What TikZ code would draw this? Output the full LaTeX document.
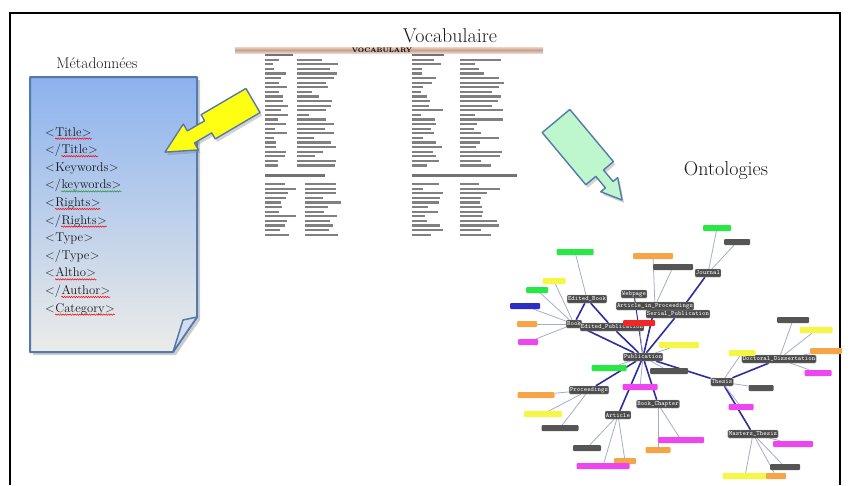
\documentclass[tikz,border=0pt]{standalone}
\usepackage{tikz}
\usetikzlibrary{shadows}
\usetikzlibrary{backgrounds}
\usetikzlibrary{decorations.pathmorphing}
\definecolor{docblue}{RGB}{140,178,238}
\definecolor{docgrey}{RGB}{236,236,232}
\definecolor{docedge}{RGB}{84,122,172}
\definecolor{callyellow}{RGB}{255,255,20}
\definecolor{callgreen}{RGB}{190,246,205}
\definecolor{isablue}{RGB}{45,45,160}
\definecolor{propgrey}{RGB}{165,172,200}
\definecolor{lfgreen}{RGB}{40,232,70}
\definecolor{lfyellow}{RGB}{246,246,70}
\definecolor{lforange}{RGB}{246,165,70}
\definecolor{lfmagenta}{RGB}{238,70,238}
\definecolor{lfblue}{RGB}{45,45,200}
\definecolor{lfred}{RGB}{238,40,40}
\definecolor{lfdark}{RGB}{85,85,85}
\definecolor{vocabbar}{RGB}{200,160,140}
\definecolor{spellgreen}{RGB}{40,150,40}

\begin{document}
\begin{tikzpicture}[x=1pt,y=-1pt,
cls/.style={rectangle,rounded corners=1.2pt,fill=black!70,draw=black!35,text=white,font=\fontsize{6.5}{7}\ttfamily,inner sep=0.9pt,minimum height=8pt},
leaf/.style={rectangle,rounded corners=1pt,minimum height=6pt,inner sep=0pt,fill=#1},
isa/.style={isablue,line width=1.6pt},
prop/.style={propgrey,line width=0.8pt},
callout/.style={line width=1.4pt,draw=docedge,line join=round,drop shadow={opacity=.35,shadow xshift=2pt,shadow yshift=-3pt}},
titre/.style={font=\fontsize{#1}{#1}\selectfont,text=black!90},
tagtext/.style={anchor=base west,inner sep=0pt,font=\fontsize{12.7}{14}\selectfont,text=black!90},
spell/.style={draw=#1,line width=0.5pt,decorate,decoration={snake,amplitude=0.7pt,segment length=2.4pt}}]

\useasboundingbox (0,0) rectangle (854,485);
\draw[line width=1.5pt] (10,485) -- (10,13) -- (840,13) -- (840,485);

\node[titre=15.5] (meta) at (97,63) {Métadonnées};
\node[titre=20] (vocab) at (450,36) {Vocabulaire};
\node[titre=20] (onto) at (726,171) {Ontologies};

% document
\path[draw=docedge,line width=2pt,line join=round,top color=docblue,bottom color=docgrey,drop shadow={opacity=.4,shadow xshift=3pt,shadow yshift=-3pt}]
  (30,77) -- (197,77) -- (197,317) -- (173,352) -- (30,352) -- cycle;
\filldraw[fill=docgrey!75!docblue,draw=docedge,line width=1.5pt,line join=round] (197,317) -- (183,320) -- (173,352) -- cycle;

\foreach \pre/\word/\col [count=\i] in {{<}/Title/red, {</}/Title/red, {<}/Keywords/none, {</}/keywords/spellgreen,
  {<}/Rights/red, {</}/Rights/red, {<}/Type/none, {</}/Type/none, {<}/Altho/red, {</}/Author/red, {<}/Category/red}{
  \node[tagtext] (pre\i) at (45,118.4+17.6*\i) {\pre};
  \node[tagtext] (word\i) at (pre\i.base east) {\word};
  \node[tagtext] (post\i) at (word\i.base east) {>};
  \path[spell=\col] ([yshift=-2.6pt]word\i.base west) -- ([yshift=-2.6pt]post\i.base east);
}

% vocabulary sheet
\shade[top color=vocabbar!45,bottom color=vocabbar!45,middle color=vocabbar] (235,47) rectangle (543,53);
\node[font=\fontsize{6.5}{6.5}\bfseries,inner sep=0pt] (vhead) at (382,50) {VOCABULARY};
\fill[black!55] (265,53.5) rectangle +(28,2.5);
\fill[black!55] (412,53.5) rectangle +(32,2.5);
\fill[black!55] (265,174) rectangle +(60,2.5);
\fill[black!55] (412,174) rectangle +(105,2.5);
\pgfmathsetseed{12}
\foreach \r in {0,...,23}{
  \pgfmathsetmacro{\wa}{8+16*rnd}
  \pgfmathsetmacro{\wb}{12+30*rnd}
  \pgfmathsetmacro{\wc}{8+24*rnd}
  \pgfmathsetmacro{\wd}{14+30*rnd}
  \fill[black!50] (265,58.5+4.6*\r) rectangle +(\wa,2.2);
  \fill[black!50] (297,58.5+4.6*\r) rectangle +(\wb,2.2);
  \fill[black!50] (412,58.5+4.6*\r) rectangle +(\wc,2.2);
  \fill[black!50] (460,58.5+4.6*\r) rectangle +(\wd,2.2);
}
\foreach \r in {0,...,11}{
  \pgfmathsetmacro{\wa}{14+18*rnd}
  \pgfmathsetmacro{\wb}{14+22*rnd}
  \pgfmathsetmacro{\wc}{10+22*rnd}
  \pgfmathsetmacro{\wd}{16+26*rnd}
  \fill[black!50] (265,183+4.6*\r) rectangle +(\wa,2.2);
  \fill[black!50] (305,183+4.6*\r) rectangle +(\wb,2.2);
  \fill[black!50] (412,183+4.6*\r) rectangle +(\wc,2.2);
  \fill[black!50] (460,183+4.6*\r) rectangle +(\wd,2.2);
}

% callout arrows
\begin{scope}[shift={(253,100.5)},rotate=-149.6]
\filldraw[callout,fill=callyellow] (0,-14) -- (52,-14) -- (52,-7) -- (72,-7) -- (72,-15) -- (102,0) -- (72,15) -- (72,7) -- (52,7) -- (52,14) -- (0,14) -- cycle;
\end{scope}
\begin{scope}[shift={(556,121)},rotate=-50.1]
\filldraw[callout,fill=callgreen] (0,-18) -- (68,-18) -- (68,-5) -- (83,-5) -- (83,-11) -- (103,0) -- (83,11) -- (83,5) -- (68,5) -- (68,18) -- (0,18) -- cycle;
\end{scope}

% ontology
\node[cls] (pub) at (643,357) {Publication};
\node[cls] (edbook) at (587,299) {Edited\_Book};
\node[cls] (book) at (574,324) {Book};
\node[cls] (edpub) at (612,327) {Edited\_Publication};
\node[cls] (web) at (634,294) {Webpage};
\node[cls] (serial) at (678,314) {Serial\_Publication};
\node[cls] (artproc) at (655,306) {Article\_in\_Proceedings};
\node[cls] (journal) at (708,273) {Journal};
\node[cls] (thesis) at (722,382) {Thesis};
\node[cls] (docdiss) at (779,359) {Doctoral\_Dissertation};
\node[cls] (master) at (753,434) {Masters\_Thesis};
\node[cls] (proc) at (589,390) {Proceedings};
\node[cls] (article) at (618,415) {Article};
\node[cls] (chapter) at (658,404) {Book\_Chapter};

\node[leaf=lfgreen,minimum width=37pt] (g1) at (575,252) {};
\node[leaf=lfgreen,minimum width=28pt] (g2) at (717,228) {};
\node[leaf=lfgreen,minimum width=22pt] (g3) at (537,290) {};
\node[leaf=lfgreen,minimum width=35pt] (g4) at (609,368) {};
\node[leaf=lfyellow,minimum width=23pt] (y1) at (554,281) {};
\node[leaf=lfyellow,minimum width=40pt] (y2) at (679,345) {};
\node[leaf=lfyellow,minimum width=27pt] (y3) at (742,353) {};
\node[leaf=lfyellow,minimum width=33pt] (y4) at (816,330) {};
\node[leaf=lfyellow,minimum width=38pt] (y5) at (543,414) {};
\node[leaf=lfyellow,minimum width=45pt] (y6) at (745,476) {};
\node[leaf=lforange,minimum width=40pt] (o1) at (653,256) {};
\node[leaf=lforange,minimum width=20pt] (o2) at (527,324) {};
\node[leaf=lforange,minimum width=37pt] (o3) at (536,395) {};
\node[leaf=lforange,minimum width=32pt] (o4) at (826,351) {};
\node[leaf=lforange,minimum width=25pt] (o5) at (658,450) {};
\node[leaf=lforange,minimum width=22pt] (o6) at (625,461) {};
\node[leaf=lforange,minimum width=20pt] (o7) at (776,476) {};
\node[leaf=lfblue,minimum width=30pt] (b1) at (525,306) {};
\node[leaf=lfred,minimum width=32pt] (r1) at (639,323) {};
\node[leaf=lfmagenta,minimum width=20pt] (m1) at (528,342) {};
\node[leaf=lfmagenta,minimum width=35pt] (m2) at (640,387) {};
\node[leaf=lfmagenta,minimum width=27pt] (m3) at (818,373) {};
\node[leaf=lfmagenta,minimum width=46pt] (m4) at (681,440) {};
\node[leaf=lfmagenta,minimum width=25pt] (m5) at (741,407) {};
\node[leaf=lfmagenta,minimum width=40pt] (m6) at (793,444) {};
\node[leaf=lfmagenta,minimum width=53pt] (m7) at (603,466) {};
\node[leaf=lfdark,minimum width=40pt] (d1) at (673,267) {};
\node[leaf=lfdark,minimum width=26pt] (d2) at (737,242) {};
\node[leaf=lfdark,minimum width=32pt] (d3) at (793,320) {};
\node[leaf=lfdark,minimum width=30pt] (d4) at (785,467) {};
\node[leaf=lfdark,minimum width=25pt] (d5) at (761,388) {};
\node[leaf=lfdark,minimum width=38pt] (d6) at (669,371) {};
\node[leaf=lfdark,minimum width=37pt] (d7) at (560,428) {};
\node[leaf=lfdark,minimum width=28pt] (d8) at (587,448) {};

\begin{scope}[on background layer]
\draw[isa] (edbook)--(book);
\draw[isa] (edbook)--(edpub);
\draw[isa] (pub)--(book);
\draw[isa] (pub)--(edpub);
\draw[isa,line width=1pt] (pub)--(web);
\draw[isa] (pub)--(artproc);
\draw[isa] (pub)--(serial);
\draw[isa] (serial)--(journal);
\draw[isa] (pub)--(thesis);
\draw[isa] (thesis)--(docdiss);
\draw[isa] (thesis)--(master);
\draw[isa] (pub)--(proc);
\draw[isa] (pub)--(article);
\draw[isa] (pub)--(chapter);

\draw[prop] (g1)--(edbook);
\draw[prop] (g2)--(journal);
\draw[prop] (d2)--(journal);
\draw[prop] (o1)--(artproc);
\draw[prop] (d1)--(artproc);
\draw[prop] (y1)--(book);
\draw[prop] (g3)--(book);
\draw[prop] (b1)--(book);
\draw[prop] (o2)--(book);
\draw[prop] (m1)--(book);
\draw[prop] (r1)--(pub);
\draw[prop] (y2)--(pub);
\draw[prop] (d6)--(pub);
\draw[prop] (g4)--(pub);
\draw[prop] (m2)--(pub);
\draw[prop] (o3)--(proc);
\draw[prop] (y5)--(proc);
\draw[prop] (d7)--(proc);
\draw[prop] (d8)--(article);
\draw[prop] (m7)--(article);
\draw[prop] (o6)--(article);
\draw[prop] (m4)--(chapter);
\draw[prop] (o5)--(chapter);
\draw[prop] (y3)--(thesis);
\draw[prop] (d5)--(thesis);
\draw[prop] (m5)--(thesis);
\draw[prop] (d3)--(docdiss);
\draw[prop] (y4)--(docdiss);
\draw[prop] (o4)--(docdiss);
\draw[prop] (m3)--(docdiss);
\draw[prop] (m6)--(master);
\draw[prop] (d4)--(master);
\draw[prop] (y6)--(master);
\draw[prop] (o7)--(master);
\end{scope}

\end{tikzpicture}
\end{document}
